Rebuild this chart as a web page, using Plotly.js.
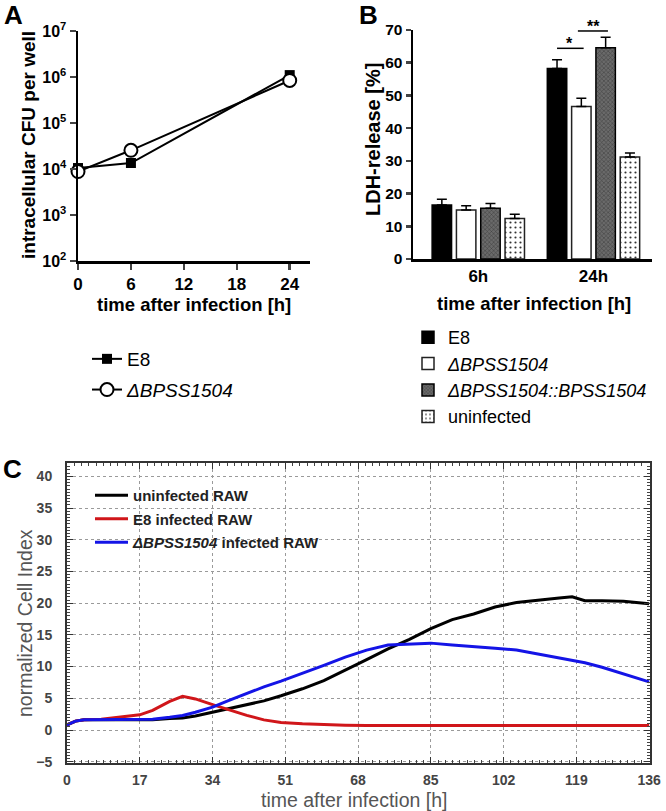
<!DOCTYPE html>
<html>
<head>
<meta charset="utf-8">
<script src="https://cdn.plot.ly/plotly-3.0.1.min.js"></script>
<style>
  body { margin: 0; background: #fff; }
  #fig { width: 666px; height: 811px; }
</style>
</head>
<body>
<div id="fig"></div>
<script>
// Panel A - intracellular CFU per well
var hoursA = [0, 6, 24];
var cfuE8 = [10500, 13500, 1100000];
var cfuDelta = [8800, 25500, 840000];
var cfuTicks = [1e2, 1e3, 1e4, 1e5, 1e6, 1e7];
var cfuTickText = ['10<sup>2</sup>', '10<sup>3</sup>', '10<sup>4</sup>', '10<sup>5</sup>', '10<sup>6</sup>', '10<sup>7</sup>'];

// Panel B - LDH release
var ldhTimes = ['6h', '24h'];
var ldhE8 = [16.5, 58.2];
var ldhE8Err = [1.8, 2.7];
var ldhDelta = [15.0, 46.6];
var ldhDeltaErr = [1.3, 2.5];
var ldhComp = [15.5, 64.6];
var ldhCompErr = [1.5, 3.2];
var ldhUninf = [12.4, 31.2];
var ldhUninfErr = [1.3, 1.2];
var noErr = [0, 0];

// Panel C - normalized cell index (xCELLigence)
var hoursC = [0, 2, 4, 8, 12, 17, 20, 24, 27, 30, 34, 38, 42, 46, 50, 55, 60, 65, 70, 75, 80, 85, 90, 95, 100, 105, 110, 115, 118, 121, 125, 130, 136];
var ciUninf = [0.8, 1.4, 1.6, 1.6, 1.6, 1.6, 1.6, 1.8, 1.9, 2.2, 2.8, 3.3, 3.9, 4.6, 5.4, 6.5, 7.8, 9.4, 11.1, 12.8, 14.3, 16.0, 17.4, 18.3, 19.4, 20.1, 20.4, 20.8, 21.0, 20.4, 20.4, 20.3, 19.9];
var ciE8 = [0.8, 1.4, 1.6, 1.7, 2.0, 2.4, 3.1, 4.5, 5.3, 4.9, 4.0, 3.1, 2.3, 1.6, 1.2, 1.0, 0.85, 0.75, 0.7, 0.7, 0.7, 0.7, 0.7, 0.7, 0.7, 0.7, 0.7, 0.7, 0.7, 0.7, 0.7, 0.7, 0.7];
var ciDelta = [0.8, 1.4, 1.6, 1.6, 1.6, 1.6, 1.7, 2.0, 2.3, 2.8, 3.6, 4.7, 5.8, 6.8, 7.7, 8.9, 10.2, 11.5, 12.6, 13.4, 13.6, 13.7, 13.4, 13.2, 12.9, 12.6, 12.0, 11.3, 11.0, 10.6, 9.9, 8.9, 7.6];

var W = 666, H = 811;
function fx(px) { return px / W; }
function fy(py) { return 1 - py / H; }

var sans = 'Liberation Sans, Arial, sans-serif';

// bar placement (used for the significance brackets too)
var bargap = 0.156, nBars = 4;
var slot = (1 - bargap) / nBars;
function barCenter(i, g) { return g + (i - (nBars - 1) / 2) * slot; }

var traces = [
  {
    x: hoursA, y: cfuE8, name: 'E8', type: 'scatter', mode: 'lines+markers',
    xaxis: 'x', yaxis: 'y', legend: 'legend', legendgroup: 'a1', cliponaxis: false,
    line: { color: '#000', width: 2 },
    marker: { symbol: 'square', size: 10, color: '#000' }
  },
  {
    x: hoursA, y: cfuDelta, name: '<i>ΔBPSS1504</i>', type: 'scatter', mode: 'lines+markers',
    xaxis: 'x', yaxis: 'y', legend: 'legend', legendgroup: 'a2', cliponaxis: false,
    line: { color: '#000', width: 2 },
    marker: { symbol: 'circle', size: 13, color: '#fff', line: { color: '#000', width: 2 } }
  },
  {
    x: ldhTimes, y: ldhE8, name: 'E8', type: 'bar', xaxis: 'x2', yaxis: 'y2', legend: 'legend2',
    marker: { color: '#000', line: { color: '#000', width: 1.5 } },
    error_y: { type: 'data', symmetric: false, array: ldhE8Err, arrayminus: noErr, color: '#000', thickness: 1.5, width: 5 }
  },
  {
    x: ldhTimes, y: ldhDelta, name: '<i>ΔBPSS1504</i>', type: 'bar', xaxis: 'x2', yaxis: 'y2', legend: 'legend2',
    marker: { color: '#fff', line: { color: '#222', width: 1.5 } },
    error_y: { type: 'data', symmetric: false, array: ldhDeltaErr, arrayminus: noErr, color: '#000', thickness: 1.5, width: 5 }
  },
  {
    x: ldhTimes, y: ldhComp, name: '<i>ΔBPSS1504::BPSS1504</i>', type: 'bar', xaxis: 'x2', yaxis: 'y2', legend: 'legend2',
    marker: { color: '#5e5e5e', line: { color: '#000', width: 1.5 },
      pattern: { shape: 'x', fgcolor: '#3c3c3c', bgcolor: '#6a6a6a', size: 3, solidity: 0.3 } },
    error_y: { type: 'data', symmetric: false, array: ldhCompErr, arrayminus: noErr, color: '#000', thickness: 1.5, width: 5 }
  },
  {
    x: ldhTimes, y: ldhUninf, name: 'uninfected', type: 'bar', xaxis: 'x2', yaxis: 'y2', legend: 'legend2',
    marker: { color: '#fff', line: { color: '#222', width: 1.5 },
      pattern: { shape: '.', fgcolor: '#333', bgcolor: '#fff', size: 5, solidity: 0.15 } },
    error_y: { type: 'data', symmetric: false, array: ldhUninfErr, arrayminus: noErr, color: '#000', thickness: 1.5, width: 5 }
  },
  {
    x: hoursC, y: ciUninf, name: 'uninfected RAW', type: 'scatter', mode: 'lines',
    xaxis: 'x3', yaxis: 'y3', legend: 'legend3', legendgroup: 'c1',
    line: { color: '#000', width: 3 }
  },
  {
    x: hoursC, y: ciE8, name: 'E8 infected RAW', type: 'scatter', mode: 'lines',
    xaxis: 'x3', yaxis: 'y3', legend: 'legend3', legendgroup: 'c2',
    line: { color: '#d0161a', width: 3 }
  },
  {
    x: hoursC, y: ciDelta, name: '<i>ΔBPSS1504</i> infected RAW', type: 'scatter', mode: 'lines',
    xaxis: 'x3', yaxis: 'y3', legend: 'legend3', legendgroup: 'c3',
    line: { color: '#1414e6', width: 3 }
  }
];

var axC = {
  showline: true, linecolor: '#333', linewidth: 2, mirror: 'ticks',
  ticks: 'inside', ticklen: 6, tickwidth: 1, tickcolor: '#333',
  showgrid: true, gridcolor: '#9a9a9a', griddash: 'dot', gridwidth: 1, zeroline: false,
  tickfont: { family: sans, size: 14, weight: 'bold', color: '#444' }
};

// free text placed in page pixels
function label(text, px, py, size, extra) {
  return Object.assign({
    text: text, xref: 'paper', yref: 'paper', x: fx(px), y: fy(py),
    xanchor: 'center', yanchor: 'middle', showarrow: false,
    font: { family: sans, size: size, weight: 'bold', color: '#000' }
  }, extra || {});
}

var layout = {
  width: W, height: H,
  margin: { l: 0, r: 0, t: 0, b: 0 },
  paper_bgcolor: '#fff', plot_bgcolor: '#fff',
  font: { family: sans, color: '#000' },
  barmode: 'group', bargap: bargap, bargroupgap: 0.2,
  xaxis: {
    domain: [fx(78), fx(310)], anchor: 'y', range: [0, 26.3],
    tickvals: [0, 6, 12, 18, 24], showline: true, linewidth: 2.5, linecolor: '#000',
    ticks: 'outside', ticklen: 6, tickwidth: 2.5, showgrid: false, zeroline: false,
    tickfont: { family: sans, size: 17, weight: 'bold' }
  },
  yaxis: {
    domain: [fy(261), fy(31)], anchor: 'x', type: 'log', range: [2, 7],
    tickvals: cfuTicks, ticktext: cfuTickText, showline: true, linewidth: 2.5, linecolor: '#000',
    ticks: 'outside', ticklen: 6, tickwidth: 2.5, showgrid: false, zeroline: false,
    tickfont: { family: sans, size: 16, weight: 'bold' }
  },
  xaxis2: {
    domain: [fx(413), fx(652)], anchor: 'y2', type: 'category', range: [-0.567, 1.508],
    showline: true, linewidth: 2.5, linecolor: '#000', ticks: '', showgrid: false, zeroline: false,
    tickfont: { family: sans, size: 17, weight: 'bold' }
  },
  yaxis2: {
    domain: [fy(259), fy(30)], anchor: 'x2', range: [0, 70], dtick: 10,
    showline: true, linewidth: 2.5, linecolor: '#000',
    ticks: 'outside', ticklen: 5, tickwidth: 2.5, showgrid: false, zeroline: false,
    tickfont: { family: sans, size: 15.5, weight: 'bold' }
  },
  xaxis3: Object.assign({}, axC, {
    domain: [fx(67), fx(650)], anchor: 'y3', range: [0, 136.2], tick0: 0, dtick: 17,
    ticklabelstandoff: 3,
    minor: { dtick: 1.7, ticks: 'inside', ticklen: 3, tickcolor: '#444', showgrid: false }
  }),
  yaxis3: Object.assign({}, axC, {
    domain: [fy(763), fy(463)], anchor: 'x3', range: [-5.2, 42.1], tick0: 0, dtick: 5,
    ticklabelstandoff: 10,
    minor: { dtick: 0.5, ticks: 'inside', ticklen: 3, tickcolor: '#444', showgrid: false }
  }),
  legend: {
    x: fx(87), y: fy(340), xanchor: 'left', yanchor: 'top', bgcolor: 'rgba(0,0,0,0)',
    traceorder: 'grouped', tracegroupgap: 3, itemwidth: 30,
    font: { family: sans, size: 19, color: '#000' }
  },
  legend2: {
    x: fx(408), y: fy(319), xanchor: 'left', yanchor: 'top', bgcolor: 'rgba(0,0,0,0)',
    traceorder: 'normal', font: { family: sans, size: 18, color: '#000' }
  },
  legend3: {
    x: fx(90), y: fy(479), xanchor: 'left', yanchor: 'top', bgcolor: 'rgba(0,0,0,0)',
    traceorder: 'grouped', tracegroupgap: 1, itemwidth: 33,
    font: { family: sans, size: 15, weight: 'bold', color: '#222' }
  },
  shapes: [
    { type: 'line', xref: 'x2', yref: 'y2', x0: barCenter(0, 1), x1: barCenter(1, 1) + 0.02, y0: 64.4, y1: 64.4, line: { color: '#000', width: 1.5 } },
    { type: 'line', xref: 'x2', yref: 'y2', x0: barCenter(1, 1) - 0.03, x1: barCenter(2, 1) + 0.02, y0: 69.7, y1: 69.7, line: { color: '#000', width: 1.5 } }
  ],
  annotations: [
    { text: '*', xref: 'x2', yref: 'y2', x: (barCenter(0, 1) + barCenter(1, 1)) / 2, y: 64.4, xanchor: 'center', yanchor: 'bottom', yshift: -6, showarrow: false, font: { family: sans, size: 16, weight: 'bold' } },
    { text: '**', xref: 'x2', yref: 'y2', x: (barCenter(1, 1) + barCenter(2, 1)) / 2, y: 69.7, xanchor: 'center', yanchor: 'bottom', yshift: -6, showarrow: false, font: { family: sans, size: 16, weight: 'bold' } },
    // panel letters
    label('A', 13, 15, 26),
    label('B', 368, 15, 26),
    label('C', 12, 469, 26),
    // axis titles
    label('intracellular CFU per well', 28, 145, 19, { textangle: -90 }),
    label('time after infection [h]', 194, 304, 18.5),
    label('LDH-release [%]', 373, 140, 20, { textangle: -90 }),
    label('time after infection [h]', 534, 303, 18.5),
    label('normalized Cell Index', 25, 623, 19.5, { textangle: -90, font: { family: sans, size: 19.5, color: '#555' } }),
    label('time after infection [h]', 354, 800, 19.5, { font: { family: sans, size: 19.5, color: '#555' } })
  ]
};

Plotly.newPlot('fig', traces, layout, { displayModeBar: false, staticPlot: true });
</script>
</body>
</html>
